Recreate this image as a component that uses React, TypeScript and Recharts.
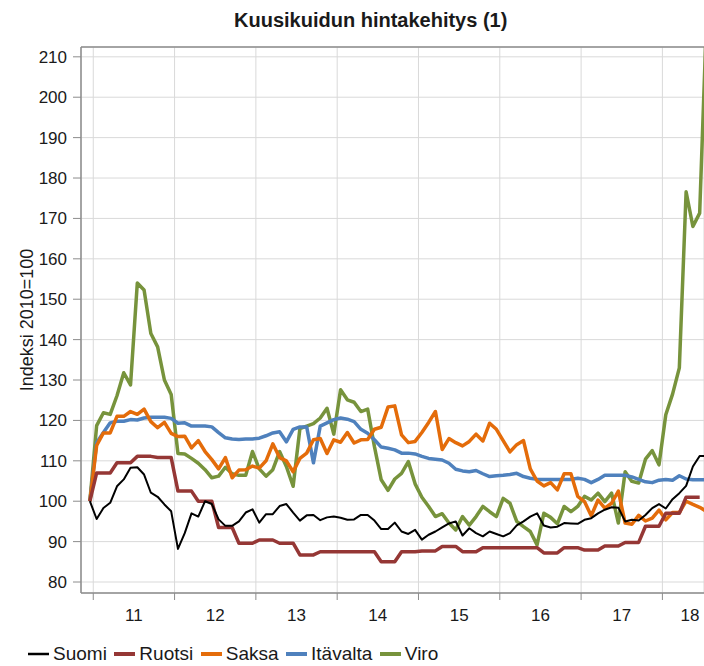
import { LineChart, Line, XAxis, YAxis, CartesianGrid, Legend, ReferenceLine } from 'recharts';

// Kuukausittainen indeksi, 2010=100. Indeksi 0 = joulukuu 2010, 91 = heinäkuu 2018
const suomi = [
  100, 95.6, 98.3, 99.6, 103.7, 105.4, 108.3, 108.4, 106.6, 102.1,
  101.1, 99.2, 97.5, 88.2, 92.1, 97, 96.2, 100, 99.3, 95.5,
  93.9, 93.9, 95, 97.2, 98, 94.7, 96.8, 96.8, 98.8, 99.3,
  97.2, 95.2, 96.5, 96.6, 95.3, 96, 96.2, 95.9, 95.4, 95.5,
  96.6, 96.6, 95.2, 93.1, 93.1, 94.7, 92.5, 91.9, 92.9, 90.5,
  91.7, 92.5, 93.5, 94.5, 95, 91.5, 93.3, 92.1, 91.3, 92.5,
  91.9, 91.3, 92.1, 94, 95, 96.2, 97, 94, 93.5, 93.7,
  94.6, 94.5, 94.4, 95.4, 95.8, 97, 97.9, 98.5, 98.4, 95,
  95.4, 95.2, 96.6, 98.3, 99.3, 98.2, 100.5, 102, 103.8, 108.6,
  111.2, 111.2,
];

const ruotsi = [
  100, 107, 107, 107, 109.5, 109.5, 109.5, 111.1, 111.1, 111.1,
  110.8, 110.8, 110.8, 102.5, 102.5, 102.5, 100, 100, 100, 93.5,
  93.5, 93.5, 89.6, 89.6, 89.6, 90.4, 90.4, 90.4, 89.6, 89.6,
  89.6, 86.7, 86.7, 86.7, 87.5, 87.5, 87.5, 87.5, 87.5, 87.5,
  87.5, 87.5, 87.5, 85, 85, 85, 87.5, 87.5, 87.5, 87.7,
  87.7, 87.7, 88.8, 88.8, 88.8, 87.5, 87.5, 87.5, 88.5, 88.5,
  88.5, 88.5, 88.5, 88.5, 88.5, 88.5, 88.5, 87.2, 87.2, 87.2,
  88.5, 88.5, 88.5, 87.9, 87.9, 87.9, 88.9, 88.9, 88.9, 89.8,
  89.8, 89.8, 93.8, 93.8, 93.8, 97, 97, 97, 101, 101,
  101,
];

const saksa = [
  100, 113.8, 116.9, 116.9, 121, 121, 122.2, 121.5, 122.8, 119.7,
  118.2, 119.5, 116.8, 116, 116.1, 113.2, 115, 112.3, 110.3, 108,
  110.8, 105.8, 107.7, 107.8, 108.7, 108.2, 110, 114.2, 110.8, 110,
  107.3, 110.6, 111.9, 115.2, 115.5, 111.8, 115.2, 114.6, 117, 114.4,
  115.2, 115.3, 117.8, 118.3, 123.3, 123.6, 116.4, 114.5, 114.8, 117,
  119.5, 122.2, 112.8, 115.5, 114.5, 113.7, 114.8, 116.6, 114.9, 119.3,
  117.8, 115, 112.2, 114, 115, 108, 105, 103.8, 104.6, 102.8,
  106.8, 106.8, 101.2, 99.9, 96.4, 100.3, 98.3, 99.5, 102.5, 94.6,
  94.3, 96.5, 95.1, 95.8, 97.8, 95.4, 97.2, 97.2, 100, 99.2,
  98.5, 97.5,
];

const itavalta = [
  100, 114.5, 117, 119.4, 119.8, 119.8, 120.2, 120.1, 120.6, 120.8,
  120.8, 120.8, 120.5, 119.3, 119.4, 118.6, 118.6, 118.6, 118.4, 117,
  115.7, 115.4, 115.3, 115.4, 115.4, 115.6, 116.2, 116.9, 117.2, 114.7,
  117.8, 118.4, 118.4, 109.5, 118.6, 119.4, 120.2, 120.6, 120.3, 119.7,
  117.8, 116.8, 115.2, 113.4, 113.1, 112.7, 111.9, 111.9, 111.7, 111.1,
  110.6, 110.4, 110.2, 109.4, 107.9, 107.5, 107.3, 107.6, 106.8, 106.1,
  106.3, 106.4, 106.6, 106.9, 106.1, 105.7, 105.4, 105.4, 105.4, 105.4,
  105.4, 105.4, 105.7, 105.4, 104.6, 105.4, 106.4, 106.4, 106.4, 106.4,
  106, 105.4, 104.8, 104.6, 105.2, 105.4, 105.2, 106.3, 105.5, 105.3,
  105.3, 105.3,
];

const viro = [
  100, 118.7, 121.9, 121.5, 126.1, 131.8, 128.8, 154, 152.3, 141.5,
  138.2, 130, 126.4, 111.8, 111.7, 110.6, 109.4, 107.8, 105.8, 106.2,
  108.4, 106.8, 106.4, 106.4, 112.3, 108, 106.2, 107.8, 112.3, 108.6,
  103.7, 118, 118.6, 119.2, 120.6, 123, 116.6, 127.6, 125.1, 124.5,
  122.2, 122.8, 113.5, 105.3, 102.7, 105.5, 106.9, 109.8, 104.3, 101,
  98.7, 96.2, 96.9, 94.6, 92.9, 96.2, 94.1, 96.2, 98.7, 97.4,
  96.2, 100.7, 99.5, 95, 93.7, 92.5, 89.2, 97, 96, 94.4,
  98.7, 97.4, 98.7, 101.2, 100.3, 102, 99.9, 102, 94.6, 107.3,
  104.9, 104.5, 110.4, 112.5, 109, 121.4, 126.5, 133, 176.6, 168,
  171.3, 219,
];

const yearLabels = ['11', '12', '13', '14', '15', '16', '17', '18'];
const yearStarts = [0.5, 12.5, 24.5, 36.5, 48.5, 60.5, 72.5, 84.5];
const yTicks = [80, 90, 100, 110, 120, 130, 140, 150, 160, 170, 180, 190, 200, 210];

const series = [
  { key: 'suomi', name: 'Suomi', color: '#000000', width: 2 },
  { key: 'ruotsi', name: 'Ruotsi', color: '#953735', width: 3.5 },
  { key: 'saksa', name: 'Saksa', color: '#e46c0a', width: 3.5 },
  { key: 'itavalta', name: 'Itävalta', color: '#4f81bd', width: 3.5 },
  { key: 'viro', name: 'Viro', color: '#77933c', width: 3.5 },
];

const data = suomi.map((v, i) => ({
  i,
  suomi: v,
  ruotsi: ruotsi[i],
  saksa: saksa[i],
  itavalta: itavalta[i],
  viro: viro[i],
}));

const FONT = '"Liberation Sans", Arial, sans-serif';
const TEXT = '#1a1a1a';
const AXIS = '#8c8c8c';
const GRID = '#d9d9d9';

const W = 704;
const H = 666;
const PLOT_LEFT = 81;
const X_MIN = -1.31;
const X_MAX = 90.64;
const Y_MIN = 77.28;
const Y_MAX = 212.43;
const monthPx = (W - PLOT_LEFT) / (X_MAX - X_MIN);

// vuosiluku keskelle vuotta, viimeinen vajaa vuosi pidetään näkyvissä
const YearTick = (props: any) => {
  const { x, y, index } = props;
  const lx = Math.min(x + monthPx * 6, W - 14);
  return (
    <text x={lx} y={y + 21} textAnchor="middle" fill={TEXT} fontSize={17} fontFamily={FONT}>
      {yearLabels[index]}
    </text>
  );
};

const YLabel = () => (
  <text
    x={27}
    y={320}
    transform="rotate(-90 27 320)"
    textAnchor="middle"
    dominantBaseline="central"
    fill={TEXT}
    fontSize={18}
    fontFamily={FONT}
  >
    Indeksi 2010=100
  </text>
);

const renderLegend = () => (
  <div
    style={{
      display: 'flex',
      alignItems: 'center',
      fontFamily: FONT,
      fontSize: 19,
      lineHeight: '22px',
      color: TEXT,
      whiteSpace: 'nowrap',
    }}
  >
    {series.map((s) => (
      <span key={s.key} style={{ display: 'flex', alignItems: 'center', marginRight: 7.5 }}>
        <svg width={21} height={8} style={{ marginRight: 4 }}>
          <line x1={0} x2={21} y1={4} y2={4} stroke={s.color} strokeWidth={s.width === 2 ? 2.5 : 4} />
        </svg>
        {s.name}
      </span>
    ))}
  </div>
);

const App = () => {
  return (
    <div style={{ position: 'absolute', left: 0, top: 0, width: W, height: H, background: '#fff', overflow: 'hidden' }}>
      <div
        style={{
          position: 'absolute',
          left: 234,
          top: 10,
          fontFamily: FONT,
          fontSize: 20,
          lineHeight: '20px',
          fontWeight: 'bold',
          color: TEXT,
          whiteSpace: 'nowrap',
          zIndex: 1,
        }}
      >
        Kuusikuidun hintakehitys (1)
      </div>
      <LineChart width={W} height={H} data={data} margin={{ top: 47, right: 0, bottom: 43, left: 0 }}>
        <CartesianGrid stroke={GRID} strokeWidth={1} />
        <XAxis
          dataKey="i"
          type="number"
          domain={[X_MIN, X_MAX]}
          allowDataOverflow
          ticks={yearStarts}
          interval={0}
          height={30}
          tickSize={7}
          tickMargin={0}
          tick={(p: any) => <YearTick {...p} />}
          tickLine={{ stroke: AXIS }}
          axisLine={{ stroke: AXIS, strokeWidth: 1.5 }}
        />
        <YAxis
          type="number"
          domain={[Y_MIN, Y_MAX]}
          allowDataOverflow
          ticks={yTicks}
          interval={0}
          width={81}
          tickSize={8}
          tickMargin={6}
          tick={{ fill: TEXT, fontSize: 17, fontFamily: FONT }}
          tickLine={{ stroke: AXIS }}
          axisLine={{ stroke: AXIS, strokeWidth: 1.5 }}
          label={YLabel}
        />
        <ReferenceLine y={Y_MAX} stroke={AXIS} strokeWidth={1.5} />
        {[...series].reverse().map((s) => (
          <Line
            key={s.key}
            dataKey={s.key}
            name={s.name}
            type="linear"
            stroke={s.color}
            strokeWidth={s.width}
            strokeLinejoin="round"
            dot={false}
            activeDot={false}
            isAnimationActive={false}
          />
        ))}
        <Legend
          layout="horizontal"
          align="center"
          verticalAlign="middle"
          content={renderLegend}
          wrapperStyle={{ left: 28, top: 643, width: 'auto', height: 'auto' }}
        />
      </LineChart>
    </div>
  );
};

export default App;
